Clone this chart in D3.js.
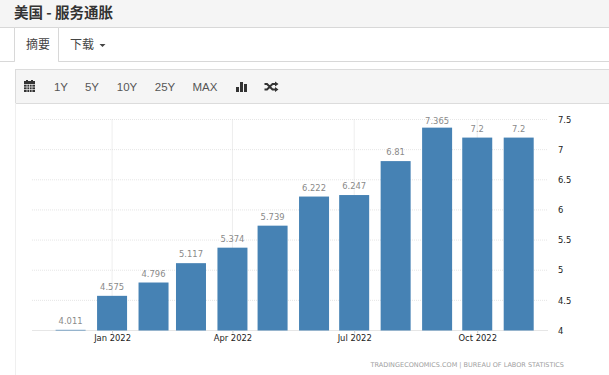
<!DOCTYPE html>
<html>
<head>
<meta charset="utf-8">
<script src="https://cdn.jsdelivr.net/npm/d3@7"></script>
<style>
  html, body { margin: 0; padding: 0; background: #fff; overflow: hidden; }
  svg { display: block; }
  .cjk { font-family: "Noto Sans CJK SC", sans-serif; }
  .btn { font-family: "Liberation Sans", sans-serif; font-size: 11.5px; fill: #555; }
  .tick text { font-family: "DejaVu Sans", sans-serif; font-size: 8.4px; fill: #222; }
  .val { font-family: "DejaVu Sans", sans-serif; font-size: 8.4px; fill: #8a8a8a; text-anchor: middle; }
</style>
</head>
<body>
<svg id="mainsvg" width="609" height="375"></svg>
<script>
const months = ['2021-12-01','2022-01-01','2022-02-01','2022-03-01','2022-04-01','2022-05-01','2022-06-01','2022-07-01','2022-08-01','2022-09-01','2022-10-01','2022-11-01'];
const values = [4.011,4.575,4.796,5.117,5.374,5.739,6.222,6.247,6.81,7.365,7.2,7.2];
const valueLabels = ['4.011','4.575','4.796','5.117','5.374','5.739','6.222','6.247','6.81','7.365','7.2','7.2'];
const xTickDates = ['2022-01-01','2022-04-01','2022-07-01','2022-10-01'];
const yTicks = [4,4.5,5,5.5,6,6.5,7,7.5];
const rangeButtons = ['1Y','5Y','10Y','25Y','MAX'];
const rangeButtonX = [61,92,127,165,205];

const svg = d3.select('#mainsvg');
const parse = d3.utcParse('%Y-%m-%d');
const margin = {top: 119.5, right: 61, bottom: 44.5, left: 32};
const width = +svg.attr('width');
const height = +svg.attr('height');

// page chrome
svg.append('rect').attr('width', width).attr('height', 27).attr('fill', '#f5f5f5');
svg.append('line').attr('x1', 0).attr('x2', width).attr('y1', 27.5).attr('y2', 27.5).attr('stroke', '#d8d8d8');
svg.append('text').attr('class', 'cjk').attr('x', 14).attr('y', 18)
    .attr('font-size', 14.5).attr('font-weight', 700).attr('fill', '#333').text('美国 - 服务通胀');

svg.append('line').attr('x1', 0).attr('x2', width).attr('y1', 61.5).attr('y2', 61.5).attr('stroke', '#d8d8d8');
svg.append('path').attr('d', 'M14.5 61.5V27.5H58.5V61.5').attr('fill', '#fff').attr('stroke', '#d8d8d8');
svg.append('line').attr('x1', 15).attr('x2', 58).attr('y1', 61.5).attr('y2', 61.5).attr('stroke', '#fff');
svg.append('text').attr('class', 'cjk').attr('x', 26).attr('y', 49).attr('font-size', 12).attr('fill', '#444').text('摘要');
svg.append('text').attr('class', 'cjk').attr('x', 70).attr('y', 49).attr('font-size', 12).attr('fill', '#444').text('下载');
svg.append('path').attr('d', 'M99.500 44h6l-3 3z').attr('fill', '#444');

// toolbar
svg.append('rect').attr('x', 15.5).attr('y', 69.5).attr('width', width).attr('height', 34)
    .attr('fill', '#f5f5f5').attr('stroke', '#dcdcdc');
svg.append('line').attr('x1', 15.5).attr('x2', 15.5).attr('y1', 103).attr('y2', height).attr('stroke', '#efefef');

// calendar icon
const cal = svg.append('g').attr('fill', '#333');
cal.append('rect').attr('x', 24).attr('y', 81).attr('width', 11).attr('height', 11);
cal.append('rect').attr('x', 26).attr('y', 80).attr('width', 2).attr('height', 2);
cal.append('rect').attr('x', 31).attr('y', 80).attr('width', 2).attr('height', 2);
cal.append('path').attr('d', 'M24 84.5h11M24 87h11M24 89.5h11M27 84v8M29.5 84v8M32 84v8').attr('stroke', '#f5f5f5').attr('stroke-width', 0.7);

svg.selectAll('.btn').data(rangeButtons).join('text')
    .attr('class', 'btn').attr('x', (d, i) => rangeButtonX[i]).attr('y', 91)
    .attr('text-anchor', 'middle').text(d => d);

// bar chart icon
svg.append('path').attr('d', 'M236 87h3v5h-3zM240 82h3v10h-3zM244 84h3v8h-3z').attr('fill', '#333');
// shuffle icon
svg.append('path').attr('d', 'M264.500 84h2.500l5.500 5.500h2.500M264.500 89.500h2.500l5.500-5.500h2.500').attr('fill', 'none').attr('stroke', '#333').attr('stroke-width', 2);
svg.append('path').attr('d', 'M275 81.500l3.500 2.500-3.500 2.500zM275 87l3.500 2.500-3.500 2.500z').attr('fill', '#333');

// scales
const xScale = d3.scaleUtc()
    .domain([parse('2021-12-01'), parse('2022-11-01')])
    .range([70.6, 518.7]);
const yScale = d3.scaleLinear()
    .domain([4, 7.5])
    .range([height - margin.bottom, margin.top]);
const right = width - margin.right;

// grid
const grid = svg.append('g');
grid.selectAll('.hg').data(yTicks).join('line')
    .attr('x1', margin.left).attr('x2', right)
    .attr('y1', d => yScale(d)).attr('y2', d => yScale(d))
    .attr('stroke', '#e6e6e6')
    .attr('stroke-dasharray', d => d === 4 ? null : '1,1');
grid.selectAll('.vg').data(xTickDates).join('line')
    .attr('x1', d => xScale(parse(d))).attr('x2', d => xScale(parse(d)))
    .attr('y1', margin.top).attr('y2', height - margin.bottom)
    .attr('stroke', '#dcdcdc').attr('stroke-dasharray', '1,1');

// bars
const barWidth = 30;
svg.selectAll('.bar').data(values).join('rect')
    .attr('class', 'bar')
    .attr('x', (d, i) => xScale(parse(months[i])) - barWidth / 2)
    .attr('y', d => yScale(d))
    .attr('width', barWidth)
    .attr('height', d => Math.max(yScale(4) - yScale(d), 0))
    .attr('fill', '#4682b4');

// labels get pushed down at the top of the plot, like 7.365
svg.selectAll('.val').data(values).join('text')
    .attr('class', 'val')
    .attr('x', (d, i) => xScale(parse(months[i])))
    .attr('y', d => Math.max(yScale(d) - 6, margin.top + 4.5))
    .text((d, i) => valueLabels[i]);

// axes
svg.append('g')
    .attr('transform', `translate(0, ${height - margin.bottom})`)
    .call(d3.axisBottom(xScale).tickValues(xTickDates.map(parse)).tickFormat(d3.utcFormat('%b %Y')).tickSize(3).tickPadding(2))
    .call(g => g.select('.domain').remove())
    .call(g => g.selectAll('.tick line').attr('stroke', '#ccc'));
svg.append('g')
    .attr('transform', `translate(${right + 10}, 0)`)
    .call(d3.axisRight(yScale).tickValues(yTicks).tickFormat(d3.format('')).tickSize(0).tickPadding(0))
    .call(g => g.select('.domain').remove());

svg.append('text').attr('x', 564).attr('y', 366.5).attr('text-anchor', 'end')
    .attr('font-family', '"DejaVu Sans", sans-serif').attr('font-size', 6.5).attr('fill', '#a0a0a0')
    .text('TRADINGECONOMICS.COM  |  BUREAU OF LABOR STATISTICS');
</script>
</body>
</html>
